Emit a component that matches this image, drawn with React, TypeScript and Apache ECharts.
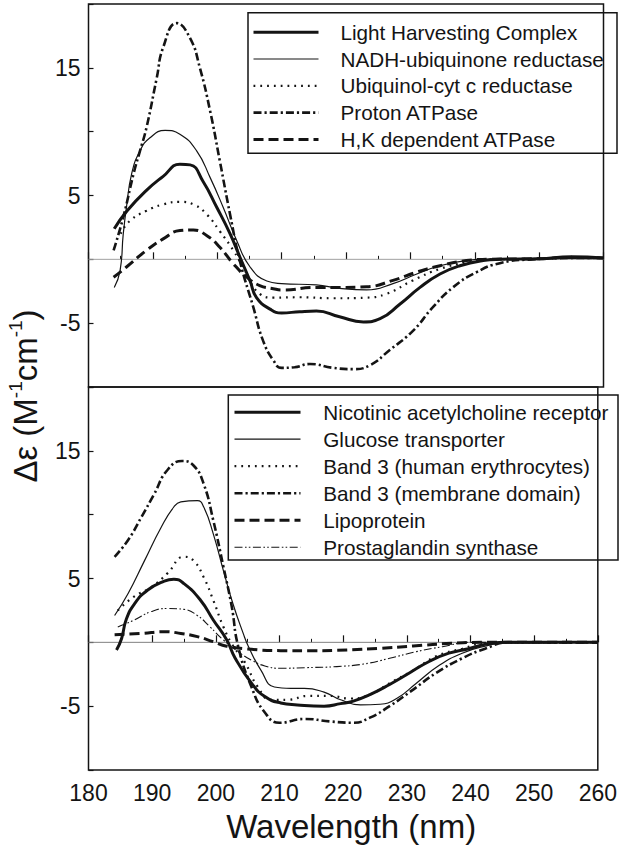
import React, { useEffect, useRef } from "react";
import * as echarts from "echarts";

// ---- Data (wavelength nm, Δε) ----
const topNames = [
  "Light Harvesting Complex",
  "NADH-ubiquinone reductase",
  "Ubiquinol-cyt c reductase",
  "Proton ATPase",
  "H,K dependent ATPase",
];
const bottomNames = [
  "Nicotinic acetylcholine receptor",
  "Glucose transporter",
  "Band 3 (human erythrocytes)",
  "Band 3 (membrane domain)",
  "Lipoprotein",
  "Prostaglandin synthase",
];

const lightHarvesting = [
  [184, 2.4], [186, 3.8], [189, 5.4], [191.6, 6.5], [194.2, 7.45], [195.8, 7.4], [197.8, 6.1],
  [199.9, 4.1], [202, 2.0], [203.5, 0.2], [205.1, -1.7], [206.1, -3.0], [208.2, -3.9], [210, -4.2],
  [212.8, -4.1], [215.4, -4.05], [219, -4.5], [222.7, -4.9], [225.3, -4.65], [228.4, -3.5],
  [231.5, -2.2], [234.6, -1.15], [237.7, -0.5], [241.3, -0.1], [244, 0], [250, 0.05], [255, 0.2], [260, 0.1],
];
const nadhReductase = [
  [184, -2.2], [184.9, -0.9], [185.4, 2.0], [185.9, 4.1], [186.7, 6.7], [188, 8.5], [189.5, 9.5],
  [191.9, 10.1], [194.2, 9.8], [196.8, 8.5], [198.9, 6.4], [200.9, 4.1], [203, 1.5], [205.1, -0.6],
  [207.7, -1.7], [210, -1.9], [215.4, -2.0], [219, -2.27], [223.2, -2.4], [227.3, -1.9], [231, -1.15],
  [234.6, -0.5], [238.7, -0.1], [242, 0], [250, 0.05], [255, 0.15], [260, 0.1],
];
const ubiquinolReductase = [
  [185, 2.0], [186.4, 3.0], [189, 3.8], [191.6, 4.3], [194.2, 4.5], [196.3, 4.3], [198.4, 3.5],
  [200.4, 2.2], [202.5, 0.7], [204, -0.6], [206.6, -2.7], [208.7, -3.0], [212.8, -2.97], [218, -3.05],
  [223.2, -3.0], [226.3, -2.7], [230.4, -1.65], [234.6, -0.75], [238.7, -0.25], [242, 0], [250, 0.05],
  [255, 0.15], [260, 0.1],
];
const protonATPase = [
  [183.9, 0.7], [185.4, 3.3], [187, 6.7], [188, 8.5], [189, 10.3], [190.6, 14.2], [191.6, 16.6],
  [193.7, 18.5], [195.8, 17.3], [197.3, 15.0], [198.9, 11.6], [200.4, 7.7], [202, 3.5], [203.5, -0.1],
  [205.6, -3.75], [207.1, -6.35], [208.7, -7.9], [210, -8.5], [212, -8.45], [214.4, -8.2], [218, -8.5],
  [221.1, -8.6], [223.7, -8.3], [226.8, -7.1], [230.4, -5.6], [233.5, -3.75], [236.6, -2.2],
  [240.3, -1.0], [243.9, -0.3], [249, 0], [255, 0.1], [260, 0.1],
];
const hkATPase = [
  [183.9, -1.4], [185.9, -0.6], [189, 0.7], [191.6, 1.6], [194.2, 2.25], [196.3, 2.3], [198.4, 1.85],
  [200.4, 0.95], [202.5, -0.35], [204.6, -1.4], [206.6, -2.05], [208.7, -2.3], [210, -2.4],
  [215.4, -2.2], [219, -2.2], [223.2, -2.15], [227.3, -1.65], [231, -1.0], [234.6, -0.5],
  [238.7, -0.1], [242, 0], [250, 0.05], [255, 0.15], [260, 0.1],
];

const nicotinicReceptor = [
  [184.4, -0.6], [185.2, 0.3], [185.9, 1.75], [187.2, 3.0], [189.3, 4.1], [191.9, 4.8], [193.4, 4.95],
  [195, 4.6], [197.6, 3.3], [199.6, 1.75], [201.7, 0.2], [203, -1.2], [205.6, -3.2], [207.7, -4.25],
  [210.2, -4.75], [212.8, -4.9], [217, -5.0], [219.6, -4.8], [221.6, -4.6], [224.2, -4.1],
  [227.3, -3.3], [230.4, -2.4], [233.5, -1.5], [236.6, -0.85], [239.7, -0.5], [243, -0.1], [246, 0], [260, 0],
];
const glucoseTransporter = [
  [184.1, 2.1], [186.2, 3.8], [188.8, 6.4], [191.4, 9.0], [193.4, 10.6], [194.5, 11.0], [197.1, 11.1],
  [198.1, 10.6], [199.6, 8.5], [201.2, 5.6], [202.7, 3.0], [204.3, 0.7], [205.1, -0.3], [207.1, -2.2],
  [209.2, -3.5], [211.8, -3.6], [213.9, -3.6], [217, -3.9], [219.6, -4.5], [222.7, -4.9],
  [225.8, -4.85], [228.4, -4.4], [231.5, -3.2], [235.1, -1.8], [238.7, -0.85], [242.3, -0.3], [246, 0], [260, 0],
];
const band3Human = [
  [184.6, 2.5], [187.2, 3.6], [189.8, 4.3], [192.4, 5.4], [195, 6.7], [196.5, 6.4], [198.1, 5.1],
  [199.6, 3.3], [201.2, 1.2], [202.5, -0.1], [204.6, -1.6], [206.6, -3.5], [208.7, -4.5], [211.3, -4.5],
  [214.4, -4.2], [218, -4.2], [221.1, -4.4], [224.2, -4.1], [227.3, -3.2], [231, -2.2], [234.6, -1.1],
  [238.7, -0.5], [243, 0], [260, 0],
];
const band3Membrane = [
  [184.1, 6.7], [186.2, 8.0], [188.3, 9.8], [190.3, 11.6], [192.4, 13.5], [194.7, 14.2], [196.5, 13.85],
  [198.1, 12.4], [199.6, 9.55], [201.2, 5.9], [202.5, 2.8], [203.5, -0.3], [205.6, -3.5], [207.7, -5.5],
  [210, -6.3], [213.9, -6.0], [218, -6.2], [221.6, -6.3], [224.2, -5.9], [227.3, -5.0], [231, -3.7],
  [234.6, -2.4], [238.7, -1.25], [242.3, -0.5], [246, 0], [260, 0],
];
const lipoprotein = [
  [184.1, 0.6], [188.3, 0.7], [191.9, 0.83], [194.5, 0.7], [197.1, 0.45], [199.6, 0.05], [201.7, -0.3],
  [205.6, -0.55], [210.2, -0.65], [215.4, -0.66], [220.6, -0.6], [225.8, -0.47], [231, -0.29],
  [236.2, -0.1], [242, 0], [260, 0],
];
const prostaglandinSynthase = [
  [184.6, 1.2], [187.2, 1.75], [189.8, 2.4], [192.4, 2.65], [195, 2.58], [197.1, 2.1], [199.1, 1.2],
  [201.2, 0.18], [203.5, -0.73], [205.6, -1.4], [207.7, -1.85], [210.2, -2.03], [214.4, -1.98],
  [219, -1.9], [223.2, -1.7], [227.3, -1.25], [231.5, -0.73], [235.6, -0.34], [240, 0], [260, 0],
];
const zeroLine = [[180, 0], [260, 0]];

const yLabelsShown = [15, 5, -5];
const FONT = "'Liberation Sans', Arial, Helvetica, sans-serif";
const INK = "#141414";

const thick = { width: 3, type: "solid" as any };
const thin = { width: 1.2, type: "solid" as any };
const dotted = { width: 2.2, type: [1.8, 5] as any, cap: "butt" };
const dashDot = { width: 2.6, type: [8, 3, 2.2, 3] as any, cap: "butt" };
const dashed = { width: 3, type: [10, 5] as any, cap: "butt" };
const dashDotDot = { width: 1.1, type: [8, 2.5, 1.6, 2.2, 1.6, 2.5] as any, cap: "butt" };

const topStyles = [thick, thin, dotted, dashDot, dashed];
const bottomStyles = [thick, thin, dotted, dashDot, dashed, dashDotDot];

function line(name: string, data: number[][], idx: number, ls: any) {
  return {
    type: "line",
    name,
    data,
    xAxisIndex: idx,
    yAxisIndex: idx,
    symbol: "none",
    smooth: 0.5,
    lineStyle: { color: INK, ...ls },
    itemStyle: { color: INK },
    z: 3,
  };
}

function zero(idx: number) {
  return {
    type: "line",
    name: idx === 0 ? "zero-top" : "zero-bottom",
    data: zeroLine,
    xAxisIndex: idx,
    yAxisIndex: idx,
    symbol: "none",
    silent: true,
    lineStyle: { color: idx === 0 ? "#a0a0a0" : "#808080", width: 1, type: "solid" },
    z: 1,
  };
}

function xAxis(idx: number) {
  return {
    type: "value",
    gridIndex: idx,
    min: 180,
    max: 260,
    interval: 10,
    axisLine: { show: false },
    axisTick: { show: true, inside: true, length: 7, lineStyle: { color: INK, width: 1.2 } },
    minorTick: { show: true, splitNumber: 2, length: 3.5, lineStyle: { color: INK, width: 1 } },
    splitLine: { show: false },
    axisLabel: idx === 1
      ? { show: true, fontFamily: FONT, fontSize: 23, color: INK, margin: 11 }
      : { show: false },
    name: idx === 1 ? "Wavelength (nm)" : "",
    nameLocation: "middle",
    nameGap: 40,
    nameTextStyle: { fontFamily: FONT, fontSize: 33, color: INK, padding: [0, 0, 0, 16] },
  };
}

function yAxis(idx: number) {
  return {
    type: "value",
    gridIndex: idx,
    min: -10,
    max: 20,
    interval: 5,
    axisLine: { show: false },
    axisTick: { show: true, inside: true, length: 5, lineStyle: { color: INK, width: 1.2 } },
    splitLine: { show: false },
    axisLabel: {
      fontFamily: FONT,
      fontSize: 23,
      color: INK,
      margin: 8,
      formatter: (v: number) => (yLabelsShown.includes(v) ? String(v) : ""),
    },
  };
}

const legendCommon = {
  orient: "vertical",
  padding: 0,
  itemHeight: 20,
  selectedMode: false,
  itemStyle: { opacity: 0 },
};

export default function App() {
  const ref = useRef<HTMLDivElement>(null);
  useEffect(() => {
    if (!ref.current) return;
    const chart = echarts.init(ref.current, undefined, { renderer: "svg" });
    const option: any = {
      animation: false,
      backgroundColor: "#ffffff",
      grid: [
        { left: 88.5, top: 4, width: 515, height: 383, show: true, borderColor: INK, borderWidth: 1.5, backgroundColor: "transparent" },
        { left: 88.5, top: 387, width: 515, height: 383, show: true, borderColor: INK, borderWidth: 1.5, backgroundColor: "transparent" },
      ],
      xAxis: [xAxis(0), xAxis(1)],
      yAxis: [yAxis(0), yAxis(1)],
      legend: [
        {
          ...legendCommon,
          data: topNames.map((n, i) => ({ name: n, lineStyle: { color: INK, ...topStyles[i] } })),
          left: 252,
          top: 21.7,
          itemWidth: 65,
          itemGap: 5.8,
          textStyle: { fontFamily: FONT, fontSize: 20.7, color: INK, lineHeight: 20, padding: [0, 0, 0, 17] },
        },
        {
          ...legendCommon,
          data: bottomNames.map((n, i) => ({ name: n, lineStyle: { color: INK, ...bottomStyles[i] } })),
          left: 233,
          top: 401.7,
          itemWidth: 66,
          itemGap: 6,
          textStyle: { fontFamily: FONT, fontSize: 20.7, color: INK, lineHeight: 20, padding: [0, 0, 0, 17.7] },
        },
      ],
      graphic: [
        { type: "rect", shape: { x: 248, y: 12.7, width: 369, height: 140.5 }, style: { fill: "none", stroke: INK, lineWidth: 1.5 }, z: 10 },
        { type: "rect", shape: { x: 228.3, y: 395, width: 389.7, height: 165 }, style: { fill: "none", stroke: INK, lineWidth: 1.5 }, z: 10 },
        {
          type: "text",
          x: 25,
          y: 396,
          rotation: Math.PI / 2,
          style: {
            text: "Δε (M{sup|-1}cm{sup|-1})",
            fontFamily: FONT,
            fontSize: 33,
            fill: INK,
            align: "center",
            verticalAlign: "middle",
            lineHeight: 38,
            rich: {
              sup: { fontFamily: FONT, fontSize: 19, fill: INK, verticalAlign: "top", lineHeight: 22 },
            },
          },
        },
      ],
      series: [
        zero(0),
        zero(1),
        line(topNames[0], lightHarvesting, 0, thick),
        line(topNames[1], nadhReductase, 0, thin),
        line(topNames[2], ubiquinolReductase, 0, dotted),
        line(topNames[3], protonATPase, 0, dashDot),
        line(topNames[4], hkATPase, 0, dashed),
        line(bottomNames[0], nicotinicReceptor, 1, thick),
        line(bottomNames[1], glucoseTransporter, 1, thin),
        line(bottomNames[2], band3Human, 1, dotted),
        line(bottomNames[3], band3Membrane, 1, dashDot),
        line(bottomNames[4], lipoprotein, 1, dashed),
        line(bottomNames[5], prostaglandinSynthase, 1, dashDotDot),
      ],
    };
    chart.setOption(option);
    return () => chart.dispose();
  }, []);
  return (
    <div
      ref={ref}
      style={{ position: "absolute", left: 0, top: 0, width: 620, height: 852, background: "#fff" }}
    />
  );
}
